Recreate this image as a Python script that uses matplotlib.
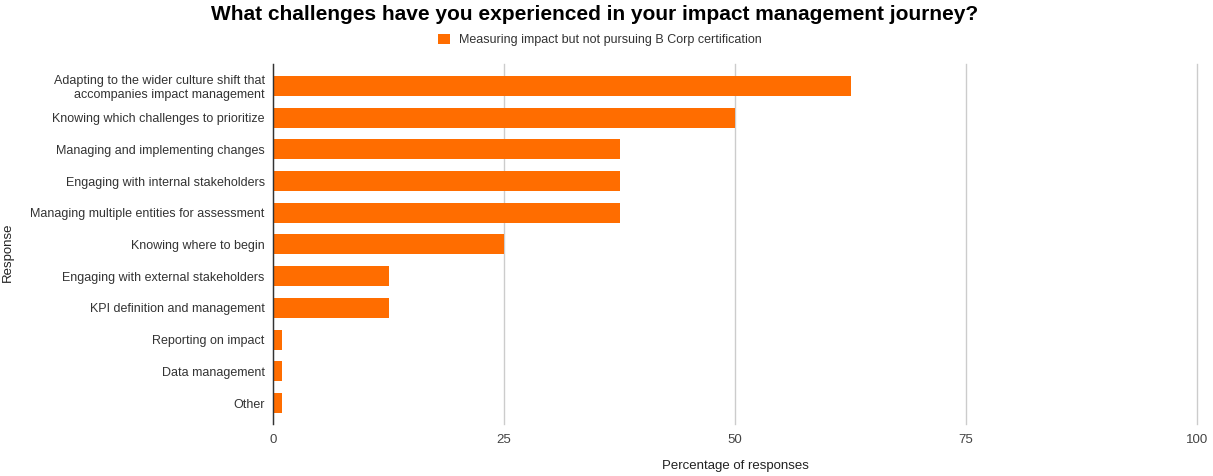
import matplotlib
matplotlib.use("Agg")
import matplotlib.pyplot as plt

categories = [
    "Adapting to the wider culture shift that\naccompanies impact management",
    "Knowing which challenges to prioritize",
    "Managing and implementing changes",
    "Engaging with internal stakeholders",
    "Managing multiple entities for assessment",
    "Knowing where to begin",
    "Engaging with external stakeholders",
    "KPI definition and management",
    "Reporting on impact",
    "Data management",
    "Other",
]
values = [62.5, 50, 37.5, 37.5, 37.5, 25, 12.5, 12.5, 1, 1, 1]
series_name = "Measuring impact but not pursuing B Corp certification"
xticks = [0, 25, 50, 75, 100]

plt.rcParams['font.family'] = ['Liberation Sans', 'DejaVu Sans']

fig = plt.figure(figsize=(12.13, 4.76), dpi=100)
ax = fig.add_axes([273/1213, 1 - 424/476, (1197-273)/1213, (424-64)/476])

y = list(range(len(categories)))
bars = ax.barh(y, values, height=0.63, color="#FF6D00", label=series_name, zorder=3)

ax.set_xlim(0, 100)
ax.set_ylim(10.66, -0.69)
ax.set_yticks(y)
ax.set_yticklabels(categories, fontsize=9, color="#333333", linespacing=1.15)
ax.set_xticks(xticks)
ax.set_xticklabels([str(t) for t in xticks], fontsize=9.5, color="#444444")
ax.tick_params(axis='both', length=0)
ax.tick_params(axis='y', pad=6)
ax.tick_params(axis='x', pad=7)

ax.grid(axis='x', color="#cccccc", linewidth=1, zorder=0)
for gl in ax.get_xgridlines():
    gl.set_clip_on(False)
for s in ['top', 'right', 'bottom']:
    ax.spines[s].set_visible(False)
ax.spines['left'].set_color("#333333")
ax.spines['left'].set_linewidth(1)
ax.spines['left'].set_zorder(4)

fig.text(735/1213, 1 - 466/476, "Percentage of responses", ha='center', va='center',
         fontsize=9.5, color="#222222")
fig.text(8/1213, 1 - 252/476, "Response", ha='center', va='center', rotation=90,
         fontsize=9.5, color="#222222")

fig.text(595/1213, 1 - 14/476, "What challenges have you experienced in your impact management journey?",
         ha='center', va='center', fontsize=15, fontweight='bold', color="#000000")

leg = fig.legend(handles=[bars], labels=[series_name], loc='center',
                 bbox_to_anchor=(600/1213, 1 - 40/476), frameon=False, fontsize=9,
                 handlelength=0.95, handleheight=0.95, handletextpad=0.7)
for t in leg.get_texts():
    t.set_color("#333333")

fig.savefig("out.png", dpi=100, facecolor="white")
